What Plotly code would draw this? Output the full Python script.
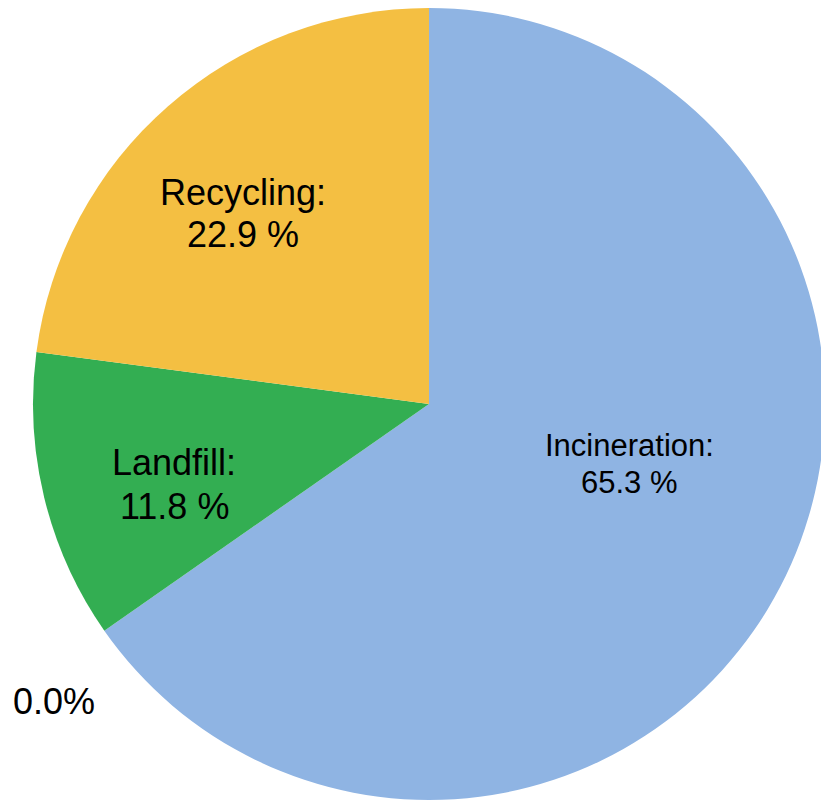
import plotly.graph_objects as go

categories = ["Incineration", "Other", "Landfill", "Recycling"]
shares = [65.3, 0.0, 11.8, 22.9]
colors = ["#8FB4E3", "#FFFFFF", "#33AE52", "#F4BF42"]

FONT = "Liberation Sans, Arial, sans-serif"

fig = go.Figure(go.Pie(
    labels=categories,
    values=shares,
    sort=False,
    direction="clockwise",
    rotation=0,
    textinfo="none",
    marker=dict(colors=colors, line=dict(width=0)),
    showlegend=False,
    hoverinfo="label+percent",
))

# plot area in pixels: x 33..825, y 8..800 (792 x 792)
def px(x):
    return (x - 33) / 792

def py(y):
    return 1 - (y - 8) / 792

# label placement (pixel centres of line 1 / line 2) and font size per category
label_layout = {
    "Incineration": (629, 446, 482, 31),
    "Landfill": (174, 462.5, 506, 36),
    "Recycling": (243, 193, 235, 36),
}

for cat, val in zip(categories, shares):
    if cat in label_layout:
        x, y1, y2, fs = label_layout[cat]
        for txt, yy in ((f"{cat}:", y1), (f"{val:.1f} %", y2)):
            fig.add_annotation(
                text=txt, xref="paper", yref="paper", x=px(x), y=py(yy),
                showarrow=False, xanchor="center", yanchor="middle",
                font=dict(family=FONT, size=fs, color="black"),
            )
    elif val == 0:
        fig.add_annotation(
            text=f"{val:.1f}%", xref="paper", yref="paper", x=px(53.5), y=py(701.5),
            showarrow=False, xanchor="center", yanchor="middle",
            font=dict(family=FONT, size=36, color="black"),
        )

fig.update_layout(
    width=826, height=801,
    margin=dict(l=33, r=1, t=8, b=1),
    paper_bgcolor="white", plot_bgcolor="white",
)

fig.write_html(
    "out.html",
    config={"displayModeBar": False},
    post_script="document.documentElement.style.overflow='hidden';document.body.style.overflow='hidden';document.body.style.margin='0';",
)
